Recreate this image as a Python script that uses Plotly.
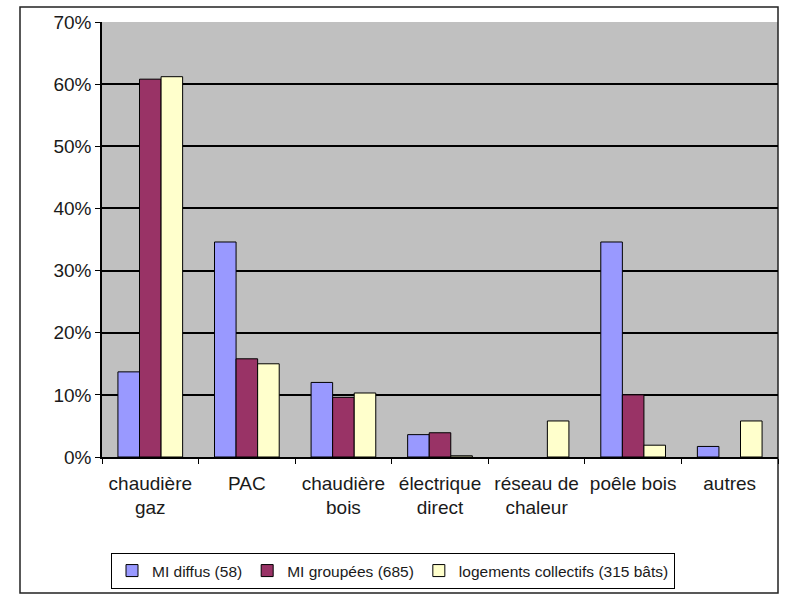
import plotly.graph_objects as go

# categories and shares (in %); None = no bar drawn
categories = ["chaudière<br>gaz", "PAC", "chaudière<br>bois", "électrique<br>direct",
              "réseau de<br>chaleur", "poêle bois", "autres"]
mi_diffus = [13.7, 34.6, 12.0, 3.6, None, 34.6, 1.7]
mi_groupees = [60.8, 15.8, 9.6, 3.9, None, 10.0, None]
logements_collectifs = [61.2, 15.0, 10.3, 0.2, 5.8, 1.9, 5.8]

series = [
    ("MI diffus (58)", mi_diffus, "#9999ff"),
    ("MI groupées (685)", mi_groupees, "#993366"),
    ("logements collectifs (315 bâts)", logements_collectifs, "#ffffcc"),
]

y_ticks = [0, 10, 20, 30, 40, 50, 60, 70]
y_tick_labels = [f"{v}%" for v in y_ticks]

W, H = 800, 610
L, R, T, B = 102, 22, 22, 153
pw, ph = W - L - R, H - T - B

fig = go.Figure()
for name, values, color in series:
    fig.add_trace(go.Bar(
        x=categories,
        y=values,
        name=name,
        marker=dict(color=color, line=dict(color="black", width=1)),
    ))

# outer frame of the chart
fig.add_shape(
    type="rect", xref="paper", yref="paper",
    x0=(20 - L) / pw, x1=(778 - L) / pw,
    y0=(H - B - 593) / ph, y1=(H - B - 7) / ph,
    line=dict(color="#222222", width=1.5),
    layer="below",
)

fig.update_layout(
    width=W, height=H,
    margin=dict(l=L, r=R, t=T, b=B),
    barmode="group",
    bargap=0.33,
    bargroupgap=0,
    plot_bgcolor="#c0c0c0",
    paper_bgcolor="white",
    font=dict(family="Arial, Liberation Sans, sans-serif", size=19, color="#1a1a1a"),
    showlegend=True,
    legend=dict(
        orientation="h",
        x=(111 - L) / pw, xanchor="left",
        y=(H - B - 553) / ph, yanchor="top",
        bordercolor="black", borderwidth=1,
        font=dict(size=15.5),
        itemwidth=30,
        tracegroupgap=0,
    ),
)

fig.update_xaxes(
    showline=True, linecolor="black", linewidth=1.5,
    ticks="outside", tickson="boundaries", ticklen=5, tickcolor="black",
    ticklabelstandoff=8,
    showgrid=False,
)
fig.update_yaxes(
    range=[0, 70],
    tickvals=y_ticks, ticktext=y_tick_labels,
    showline=True, linecolor="black", linewidth=1.5,
    ticks="outside", ticklen=5, tickcolor="black",
    showgrid=True, gridcolor="black", gridwidth=1.5,
    zeroline=False,
)

fig.write_html("out.html", config={"displayModeBar": False},
               post_script="document.body.style.margin='0';")
